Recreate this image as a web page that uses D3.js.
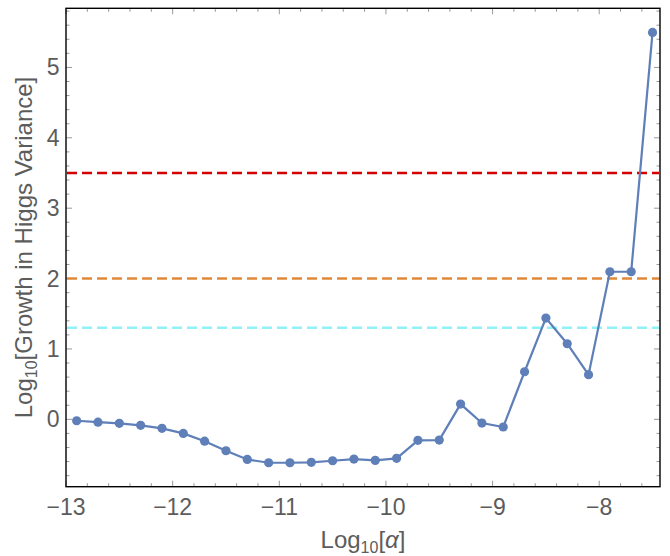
<!DOCTYPE html>
<html><head><meta charset="utf-8">
<script src="https://cdn.jsdelivr.net/npm/d3@7"></script>
<style>body{margin:0;background:#fff}svg{display:block}</style>
</head><body><svg id="c" width="670" height="556"></svg>
<script>
const logAlpha = [-12.9,-12.7,-12.5,-12.3,-12.1,-11.9,-11.7,-11.5,-11.3,-11.1,-10.9,-10.7,-10.5,-10.3,-10.1,-9.9,-9.7,-9.5,-9.3,-9.1,-8.9,-8.7,-8.5,-8.3,-8.1,-7.9,-7.7,-7.5];
const logGrowth = [-0.02,-0.04,-0.057,-0.085,-0.128,-0.20,-0.31,-0.446,-0.57,-0.617,-0.617,-0.61,-0.588,-0.564,-0.583,-0.554,-0.298,-0.294,0.217,-0.053,-0.109,0.676,1.439,1.074,0.634,2.097,2.097,5.497];
const refLevels = [3.5, 2.0, 1.301];
const refColors = ["#d40000", "#e0893a", "#8ef2f7"];
const xTicks = [-13,-12,-11,-10,-9,-8];
const yTicks = [0,1,2,3,4,5];

const svg = d3.select("#c");
const L = 66, R = 660, T = 8.3, B = 486.7;
const x = d3.scaleLinear().domain([-13, -7.43]).range([L, R]);
const y = d3.scaleLinear().domain([-0.957, 5.84]).range([B, T]);
const font = "'Liberation Sans', Arial, sans-serif";
const tickCol = "#5c5c5c";

const xMinor = d3.range(-13, -7.4, 0.2).map(v => +v.toFixed(1));
const yMinor = d3.range(-0.8, 5.81, 0.2).map(v => +v.toFixed(1));
const isInt = v => Math.abs(v - Math.round(v)) < 1e-6;
const tg = svg.append("g").attr("stroke", "#999").attr("stroke-width", 1);
xMinor.forEach(v => {
  const len = isInt(v) ? 6 : 3.5;
  tg.append("line").attr("x1", x(v)).attr("x2", x(v)).attr("y1", B).attr("y2", B - len);
  tg.append("line").attr("x1", x(v)).attr("x2", x(v)).attr("y1", T).attr("y2", T + len);
});
yMinor.forEach(v => {
  const len = isInt(v) ? 6 : 3.5;
  tg.append("line").attr("y1", y(v)).attr("y2", y(v)).attr("x1", L).attr("x2", L + len);
  tg.append("line").attr("y1", y(v)).attr("y2", y(v)).attr("x1", R).attr("x2", R - len);
});

refLevels.forEach((lv, i) => {
  svg.append("line").attr("x1", L + 1).attr("x2", R - 1).attr("y1", y(lv)).attr("y2", y(lv))
    .attr("stroke", refColors[i]).attr("stroke-width", 2.5).attr("stroke-dasharray", "10,5");
});

const pts = logAlpha.map((a, i) => [a, logGrowth[i]]);
svg.append("path").datum(pts)
  .attr("d", d3.line().x(d => x(d[0])).y(d => y(d[1])))
  .attr("fill", "none").attr("stroke", "#5e7fb8").attr("stroke-width", 2.2);
svg.selectAll("circle.p").data(pts).enter().append("circle")
  .attr("cx", d => x(d[0])).attr("cy", d => y(d[1])).attr("r", 4.6).attr("fill", "#5e7fb8");

svg.append("rect").attr("x", L).attr("y", T).attr("width", R - L).attr("height", B - T)
  .attr("fill", "none").attr("stroke", "#000").attr("stroke-width", 1.4);

svg.selectAll("text.xt").data(xTicks).enter().append("text")
  .attr("x", d => x(d)).attr("y", 515).attr("text-anchor", "middle")
  .attr("font-family", font).attr("font-size", 23).attr("fill", tickCol)
  .text(d => "\u2212" + Math.abs(d));
svg.selectAll("text.yt").data(yTicks).enter().append("text")
  .attr("x", 59.5).attr("y", d => y(d) + 8).attr("text-anchor", "end")
  .attr("font-family", font).attr("font-size", 23).attr("fill", tickCol)
  .text(d => d);

const xl = svg.append("text").attr("x", (L + R) / 2).attr("y", 548).attr("text-anchor", "middle")
  .attr("font-family", font).attr("font-size", 24).attr("fill", tickCol);
xl.append("tspan").text("Log");
xl.append("tspan").attr("font-size", 16).attr("dy", 5).text("10");
xl.append("tspan").attr("dy", -5).text("[");
xl.append("tspan").attr("font-style", "italic").text("\u03b1");
xl.append("tspan").text("]");

const yl = svg.append("text").attr("transform", `translate(32,${(T + B) / 2}) rotate(-90)`)
  .attr("text-anchor", "middle").attr("font-family", font).attr("font-size", 24).attr("fill", tickCol);
yl.append("tspan").text("Log");
yl.append("tspan").attr("font-size", 16).attr("dy", 5).text("10");
yl.append("tspan").attr("dy", -5).text("[Growth in Higgs Variance]");
</script></body></html>
